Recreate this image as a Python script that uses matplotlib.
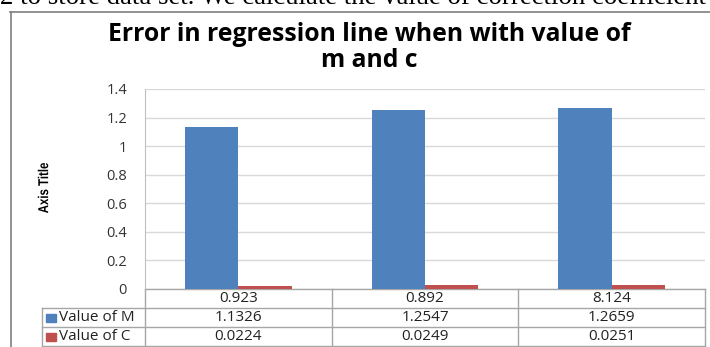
import matplotlib.pyplot as plt
import matplotlib.transforms as mtransforms
from matplotlib.lines import Line2D
from matplotlib.patches import Rectangle, PathPatch
from matplotlib.textpath import TextPath
from matplotlib.font_manager import FontProperties
import numpy as np

# data
categories = ['0.923', '0.892', '8.124']
value_m = [1.1326, 1.2547, 1.2659]
value_c = [0.0224, 0.0249, 0.0251]
series_names = ['Value of M', 'Value of C']
colors = ['#4F81BD', '#C0504D']
yticks = [0, 0.2, 0.4, 0.6, 0.8, 1, 1.2, 1.4]

font = 'Open Sans'

fig = plt.figure(figsize=(7.10, 3.47), dpi=100)

# cut-off line of document text above the chart
fig.text(0.0, 1 - 4 / 347, '2 to store data set. We calculate the value of correction coefficient',
         family='Liberation Serif', fontsize=19.3, va='baseline', ha='left', color='black')

# chart frame
fig.add_artist(Line2D([10 / 710, 1.0], [1 - 12 / 347] * 2, color='#7f7f7f', lw=1.2))
fig.add_artist(Line2D([11 / 710] * 2, [0, 1 - 12 / 347], color='#7f7f7f', lw=1.2))

ax = fig.add_axes([145 / 710, 58 / 347, 560 / 710, 200 / 347])

x = np.arange(len(categories))
w = 1 / 3.5
ax.bar(x - w / 2, value_m, w, color=colors[0], zorder=3)
ax.bar(x + w / 2, value_c, w, color=colors[1], zorder=3)

ax.set_xlim(-0.5, len(categories) - 0.5)
ax.set_ylim(0, 1.4)
ax.set_yticks(yticks)
ax.set_yticklabels([f'{t:g}' for t in yticks], family=font, fontsize=10.5, color='#333333')
ax.tick_params(axis='y', length=0, pad=13)
ax.set_xticks([])
ax.grid(axis='y', color='#d9d9d9', lw=1, zorder=0)
for s in ['top', 'right', 'bottom']:
    ax.spines[s].set_visible(False)
ax.spines['left'].set_color('#bfbfbf')

# condensed bold axis title (squeezed horizontally, then rotated)
tp = TextPath((0, 0), 'Axis Title', size=13, prop=FontProperties(family='Liberation Sans', weight='bold'))
bb = tp.get_extents()
t = (mtransforms.Affine2D()
     .translate(-(bb.x0 + bb.x1) / 2, -(bb.y0 + bb.y1) / 2)
     .scale(50 / bb.width, 10.5 / bb.height)
     .rotate_deg(90)
     .translate(43, 347 - 188))
fig.add_artist(PathPatch(tp, transform=t, color='black', lw=0))

# title, two lines
fig.text(369 / 710, 1 - 41 / 347, 'Error in regression line when with value of', family=font,
         fontweight='bold', fontsize=17.8, ha='center', va='baseline')
fig.text(369 / 710, 1 - 67 / 347, 'm and c', family=font,
         fontweight='bold', fontsize=17.8, ha='center', va='baseline')

# data table below the plot
trans = mtransforms.blended_transform_factory(ax.transData, ax.transAxes)
rh = 19 / 200
left = -0.5 - 103 / (560 / 3)
right = len(categories) - 0.5
lc = '#a6a6a6'
rows = [categories, [f'{v:.4f}' for v in value_m], [f'{v:.4f}' for v in value_c]]
# horizontal lines
ax.add_line(Line2D([-0.5, right], [0, 0], transform=trans, color=lc, lw=1, clip_on=False))
for i in range(1, 4):
    ax.add_line(Line2D([left, right], [-i * rh] * 2, transform=trans, color=lc, lw=1, clip_on=False))
# vertical lines
for xb in np.arange(-0.5, right + 0.01, 1):
    ax.add_line(Line2D([xb, xb], [0, -3 * rh], transform=trans, color=lc, lw=1, clip_on=False))
ax.add_line(Line2D([left, left], [-rh, -3 * rh], transform=trans, color=lc, lw=1, clip_on=False))

for r, row in enumerate(rows):
    yc = -(r + 0.5) * rh
    for c, txt in enumerate(row):
        ax.text(c, yc, txt, transform=trans, ha='center', va='center', family=font, fontsize=11,
                color='#222222', clip_on=False)

for k, name in enumerate(series_names):
    yc = -(k + 1.5) * rh
    ax.add_patch(Rectangle((left + 4 / 186.7, yc - 0.02), 10 / 186.7, 0.04, transform=trans,
                           color=colors[k], clip_on=False))
    ax.text(left + 17 / 186.7, yc, name, transform=trans, ha='left', va='center', family=font,
            fontsize=11, color='#222222', clip_on=False)

fig.savefig('out.png', dpi=100)
